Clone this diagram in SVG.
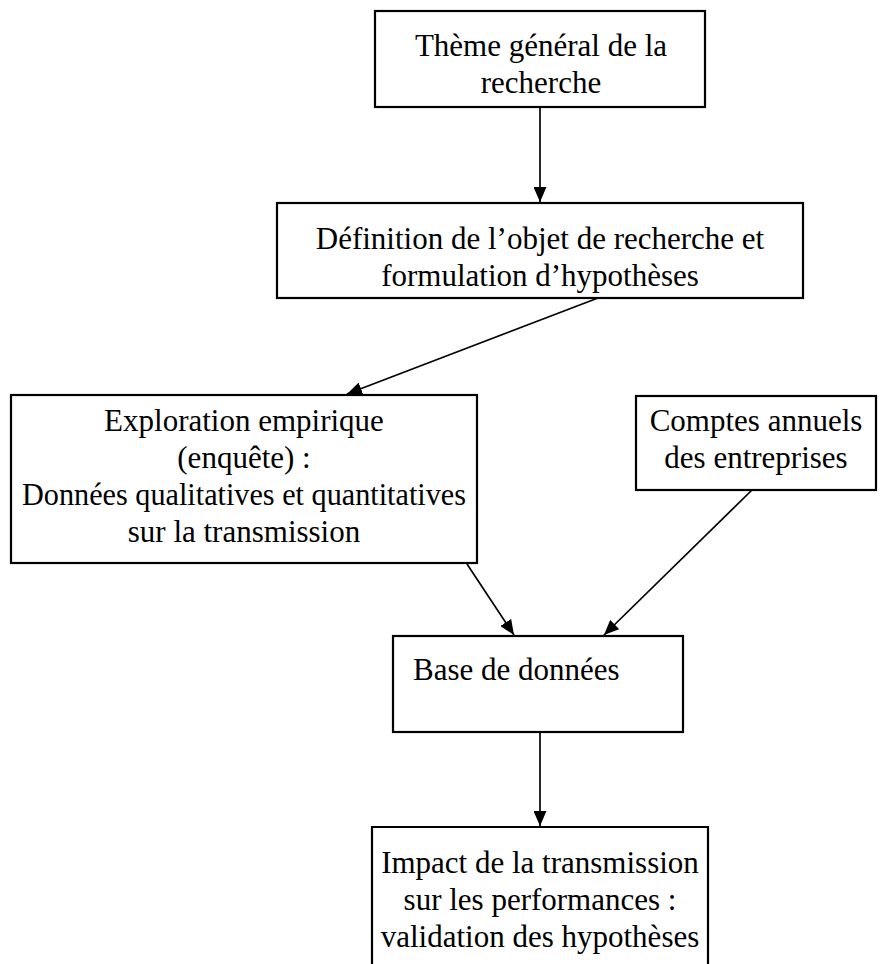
<svg xmlns="http://www.w3.org/2000/svg" width="886" height="964" viewBox="0 0 886 964">
  <defs>
    <marker id="arrow" markerWidth="15" markerHeight="13" refX="15" refY="6.5" orient="auto" markerUnits="userSpaceOnUse">
      <path d="M0,0 L15,6.5 L0,13 Z" fill="#000"/>
    </marker>
    <style>
      .box { fill: #fff; stroke: #000; stroke-width: 2.2; }
      .label { font-family: "Liberation Serif", "Times New Roman", serif; font-size: 31px; fill: #000; text-anchor: middle; }
      .left { text-anchor: start; }
      .link { stroke: #000; stroke-width: 1.7; fill: none; marker-end: url(#arrow); }
    </style>
  </defs>
  <rect width="886" height="964" fill="#fff"/>

  <g id="theme">
    <rect class="box" x="375" y="11" width="330" height="96"/>
    <text class="label" x="541" y="56">Thème général de la</text>
    <text class="label" x="541" y="93">recherche</text>
  </g>

  <g id="definition">
    <rect class="box" x="277" y="203" width="526" height="95"/>
    <text class="label" x="540" y="249">Définition de l’objet de recherche et</text>
    <text class="label" x="540" y="286">formulation d’hypothèses</text>
  </g>

  <g id="exploration">
    <rect class="box" x="11" y="395" width="466" height="168"/>
    <text class="label" x="244" y="431">Exploration empirique</text>
    <text class="label" x="244" y="468">(enquête) :</text>
    <text class="label" x="244" y="505" textLength="444" lengthAdjust="spacingAndGlyphs">Données qualitatives et quantitatives</text>
    <text class="label" x="244" y="542">sur la transmission</text>
  </g>

  <g id="comptes">
    <rect class="box" x="636" y="396" width="240" height="94"/>
    <text class="label" x="756" y="431">Comptes annuels</text>
    <text class="label" x="756" y="468">des entreprises</text>
  </g>

  <g id="base">
    <rect class="box" x="393" y="636" width="290" height="96"/>
    <text class="label left" x="413" y="680">Base de données</text>
  </g>

  <g id="impact">
    <path class="box" d="M372,966 L372,827 L708,827 L708,966"/>
    <text class="label" x="540" y="873">Impact de la transmission</text>
    <text class="label" x="540" y="910">sur les performances :</text>
    <text class="label" x="540" y="947">validation des hypothèses</text>
  </g>

  <g id="connectors">
    <line class="link" x1="540" y1="107" x2="540" y2="202"/>
    <line class="link" x1="598" y1="298" x2="347" y2="394"/>
    <line class="link" x1="467" y1="564" x2="514" y2="635"/>
    <line class="link" x1="752" y1="490" x2="604" y2="635"/>
    <line class="link" x1="540" y1="732" x2="540" y2="826"/>
  </g>
</svg>
